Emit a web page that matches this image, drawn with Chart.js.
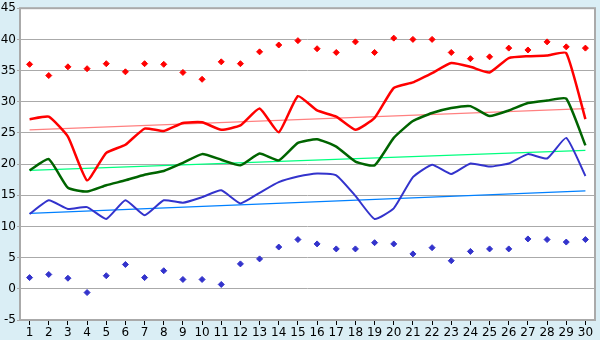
<!DOCTYPE html>
<html>
<head>
<meta charset="utf-8">
<script src="https://cdn.jsdelivr.net/npm/chart.js@4"></script>
<style>
  html, body { margin: 0; padding: 0; background: #DAEEF5; }
  #wrap { width: 600px; height: 340px; }
</style>
</head>
<body>
<div id="wrap"><canvas id="chart" width="600" height="340"></canvas></div>
<script>
const days = ["1","2","3","4","5","6","7","8","9","10","11","12","13","14","15","16","17","18","19","20","21","22","23","24","25","26","27","28","29","30"];

const redLine = [27.2, 27.6, 24.4, 17.4, 21.8, 23.1, 25.7, 25.3, 26.6, 26.7, 25.5, 26.2, 28.9, 25.1, 30.9, 28.6, 27.6, 25.5, 27.4, 32.2, 33.1, 34.6, 36.2, 35.6, 34.7, 37.0, 37.3, 37.4, 37.8, 27.2];
const greenLine = [19.0, 20.8, 16.2, 15.6, 16.6, 17.4, 18.3, 18.9, 20.2, 21.6, 20.7, 19.8, 21.7, 20.6, 23.4, 24.0, 22.8, 20.4, 19.8, 24.2, 26.9, 28.2, 29.0, 29.3, 27.7, 28.6, 29.8, 30.2, 30.5, 23.0];
const blueLine = [12.0, 14.2, 12.8, 13.1, 11.2, 14.2, 11.8, 14.2, 13.8, 14.7, 15.8, 13.7, 15.4, 17.1, 18.0, 18.5, 18.2, 14.9, 11.2, 12.9, 17.9, 19.9, 18.4, 20.1, 19.6, 20.1, 21.6, 20.9, 24.2, 18.1];

const redDots = [36.0, 34.2, 35.6, 35.3, 36.1, 34.8, 36.1, 36.0, 34.7, 33.6, 36.4, 36.1, 38.0, 39.1, 39.8, 38.5, 37.9, 39.6, 37.9, 40.2, 40.0, 40.0, 37.9, 36.9, 37.2, 38.6, 38.3, 39.6, 38.8, 38.6];
const blueDots = [1.8, 2.3, 1.7, -0.6, 2.1, 3.9, 1.8, 2.9, 1.5, 1.5, 0.7, 4.0, 4.8, 6.7, 7.9, 7.2, 6.4, 6.4, 7.4, 7.2, 5.6, 6.6, 4.5, 6.0, 6.4, 6.4, 8.0, 7.9, 7.5, 7.9];

// trend lines: value at day 1 and day 30
const redTrend = [25.5, 28.9];
const greenTrend = [19.0, 22.2];
const blueTrend = [12.1, 15.7];

const yTicks = { min: -5, max: 45, step: 5 };

function ends(pair) {
    return days.map((d, i) => i === 0 ? pair[0] : (i === days.length - 1 ? pair[1] : null));
}

const plotFrame = {
    id: "plotFrame",
    beforeDraw(chart) {
        const { ctx, chartArea: a } = chart;
        ctx.save();
        ctx.fillStyle = "#DAEEF5";
        ctx.fillRect(0, 0, chart.width, chart.height);
        ctx.fillStyle = "#FFFFFF";
        ctx.fillRect(a.left, a.top, a.right - a.left, a.bottom - a.top);
        ctx.restore();
    },
    afterDatasetsDraw(chart) {
        const { ctx, chartArea: a } = chart;
        ctx.save();
        ctx.strokeStyle = "#AAAAAA";
        ctx.lineWidth = 2;
        ctx.strokeRect(a.left, a.top, a.right - a.left, a.bottom - a.top);
        ctx.restore();
    },
};

const lineDs = (data, color, width) => ({
    data, borderColor: color, borderWidth: width, pointRadius: 0, tension: 0.15, fill: false,
});
const dotDs = (data, color) => ({
    data, showLine: false, pointStyle: "rectRot", pointRadius: 3,
    pointBackgroundColor: color, pointBorderColor: color, borderColor: color,
});
const trendDs = (pair, color) => ({
    data: ends(pair), borderColor: color, borderWidth: 1.2, pointRadius: 0, spanGaps: true, fill: false,
});

Chart.defaults.font.family = "'DejaVu Sans', Verdana, sans-serif";
Chart.defaults.font.size = 12;
Chart.defaults.color = "#000000";

new Chart(document.getElementById("chart"), {
    type: "line",
    data: {
        labels: days,
        datasets: [
            dotDs(redDots, "#FF0000"),
            dotDs(blueDots, "#3333CC"),
            lineDs(redLine, "#FF0000", 2.5),
            lineDs(greenLine, "#006400", 2.5),
            lineDs(blueLine, "#3333CC", 2),
            trendDs(redTrend, "#FF8080"),
            trendDs(greenTrend, "#00FF7F"),
            trendDs(blueTrend, "#0080FF"),
        ],
    },
    plugins: [plotFrame],
    options: {
        responsive: false,
        animation: false,
        layout: { padding: { top: 5, right: 5, left: 0, bottom: 0 } },
        plugins: { legend: { display: false }, tooltip: { enabled: false } },
        scales: {
            x: {
                offset: true,
                afterFit: (s) => { s.height = 20; },
                grid: { display: true, drawOnChartArea: false, drawTicks: true, tickLength: 5, color: "#000000" },
                border: { display: false },
                ticks: { autoSkip: false, maxRotation: 0, padding: 1, color: "#000000" },
            },
            y: {
                min: yTicks.min,
                max: yTicks.max,
                afterFit: (s) => { s.width = 20; },
                grid: { color: "#AAAAAA", lineWidth: 1, drawTicks: true, tickLength: 3 },
                border: { display: false },
                ticks: { stepSize: yTicks.step, padding: 1, color: "#000000" },
            },
        },
    },
});
</script>
</body>
</html>
